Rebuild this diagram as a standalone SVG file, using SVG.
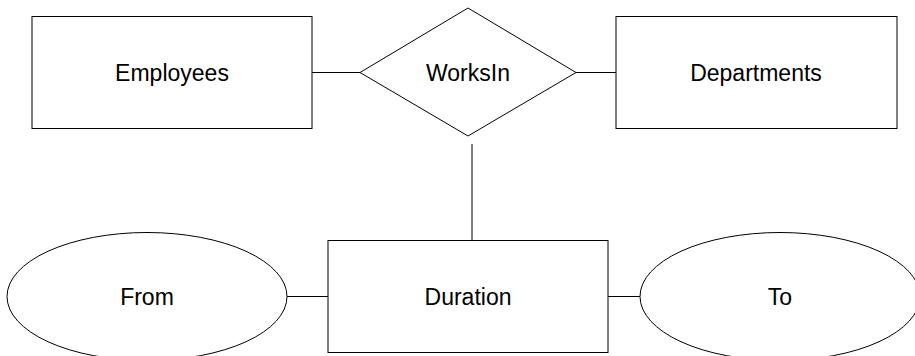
<svg xmlns="http://www.w3.org/2000/svg" width="915" height="356" viewBox="0 0 915 356">
<style>
.s{fill:#fff;stroke:#000;stroke-width:1}
.c{stroke:#000;stroke-width:1;fill:none}
text{font-family:"Liberation Sans",Arial,sans-serif;font-size:23px;fill:#000;text-anchor:middle}
</style>
<rect width="915" height="356" fill="#fff"/>
<g id="connectors">
<line class="c" x1="312" y1="72.5" x2="360" y2="72.5"/>
<line class="c" x1="576" y1="72.5" x2="616" y2="72.5"/>
<line class="c" x1="472" y1="144" x2="472" y2="240"/>
<line class="c" x1="287" y1="296.5" x2="328" y2="296.5"/>
<line class="c" x1="608" y1="296.5" x2="640" y2="296.5"/>
</g>
<g id="employees">
<rect class="s" x="32" y="16.5" width="280" height="112"/>
<text x="172" y="81">Employees</text>
</g>
<g id="worksin">
<polygon class="s" points="468,8 576,72.5 468,136 360,72.5"/>
<text x="468" y="81">WorksIn</text>
</g>
<g id="departments">
<rect class="s" x="616" y="16.5" width="281" height="112"/>
<text x="756" y="81">Departments</text>
</g>
<g id="duration">
<rect class="s" x="328" y="240.5" width="280" height="112"/>
<text x="468" y="305">Duration</text>
</g>
<g id="from">
<ellipse class="s" cx="147" cy="296.5" rx="140" ry="64"/>
<text x="147" y="305">From</text>
</g>
<g id="to">
<ellipse class="s" cx="780" cy="296.5" rx="140" ry="64"/>
<text x="780" y="305">To</text>
</g>
</svg>
